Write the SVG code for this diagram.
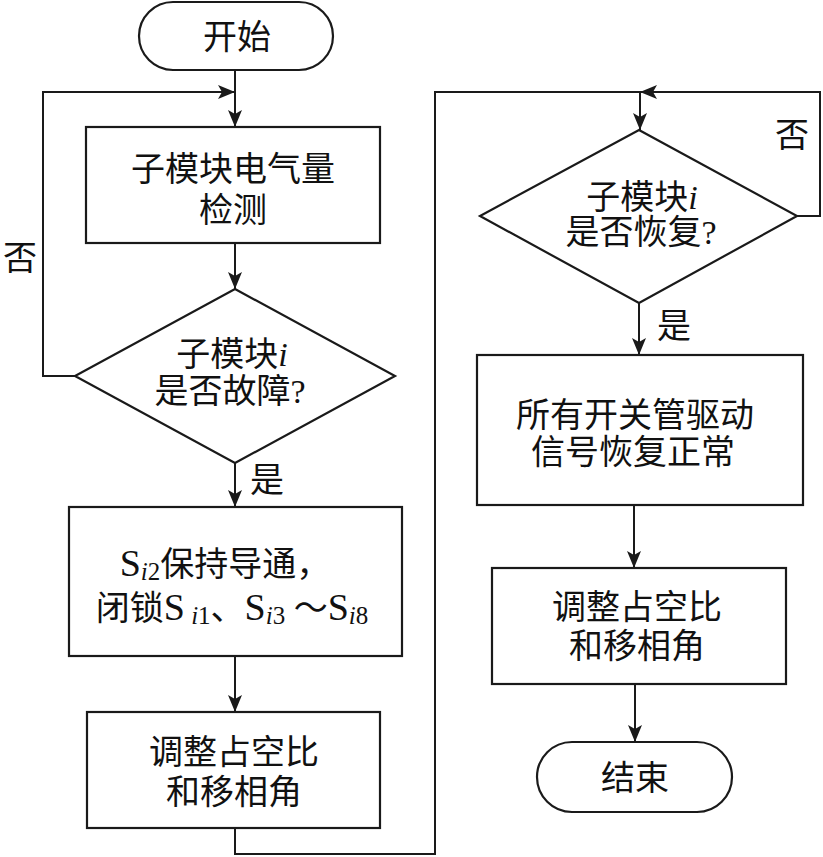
<svg xmlns="http://www.w3.org/2000/svg" width="823" height="857" viewBox="0 0 823 857">
<style>
.shape{fill:#fff;stroke:#1a1a1a;stroke-width:2.2}
.ln{fill:none;stroke:#1a1a1a;stroke-width:2}
text{font-family:"Liberation Serif","Noto Sans CJK SC",serif;font-size:34px;fill:#111;text-anchor:middle}
.sub{font-size:25px}
.it{font-style:italic}
.big{font-size:38px}
</style>
<defs>
<marker id="ah" markerUnits="userSpaceOnUse" markerWidth="18" markerHeight="14" refX="17" refY="7" orient="auto">
<path d="M0,0 L17,7 L0,14 L4,7 z" fill="#1a1a1a"/>
</marker>
</defs>
<g id="connectors">
<line class="ln" x1="235" y1="70" x2="235" y2="127" marker-end="url(#ah)"/>
<polyline class="ln" points="75,376 43,376 43,92 235,92" marker-end="url(#ah)"/>
<line class="ln" x1="235" y1="243" x2="235" y2="289" marker-end="url(#ah)"/>
<line class="ln" x1="235" y1="463" x2="235" y2="507" marker-end="url(#ah)"/>
<line class="ln" x1="235" y1="656" x2="235" y2="712" marker-end="url(#ah)"/>
<polyline class="ln" points="235,828 235,854 435,854 435,92 640,92"/>
<polyline class="ln" points="797,216 820,216 820,92 640,92" marker-end="url(#ah)"/>
<line class="ln" x1="640" y1="92" x2="640" y2="130" marker-end="url(#ah)"/>
<line class="ln" x1="639" y1="303" x2="639" y2="355" marker-end="url(#ah)"/>
<line class="ln" x1="634" y1="505" x2="634" y2="568" marker-end="url(#ah)"/>
<line class="ln" x1="635" y1="684" x2="635" y2="742" marker-end="url(#ah)"/>
<text x="20" y="270">否</text>
<text x="267" y="492">是</text>
<text x="792" y="147">否</text>
<text x="674" y="338">是</text>
</g>
<g id="start">
<rect class="shape" x="139" y="2" width="194" height="68" rx="34" ry="34"/>
<text x="237" y="49">开始</text>
</g>
<g id="detect">
<rect class="shape" x="86" y="127" width="294" height="116"/>
<text x="233" y="181">子模块电气量</text>
<text x="233" y="222">检测</text>
</g>
<g id="fault">
<polygon class="shape" points="235,289 395,376 235,463 75,376"/>
<text x="232" y="366">子模块<tspan class="it">i</tspan></text>
<text x="230" y="403">是否故障?</text>
</g>
<g id="block">
<rect class="shape" x="69" y="507" width="333" height="149"/>
<text x="225" y="576"><tspan class="big">S</tspan><tspan class="sub it" dy="4">i</tspan><tspan class="sub">2</tspan><tspan dy="-4">保持导通，</tspan></text>
<text x="232" y="620">闭锁<tspan class="big">S</tspan><tspan class="sub it" dy="4"> i</tspan><tspan class="sub">1</tspan><tspan dy="-4">、</tspan><tspan class="big">S</tspan><tspan class="sub it" dy="4">i</tspan><tspan class="sub">3</tspan><tspan dy="-4"> ～</tspan><tspan class="big">S</tspan><tspan class="sub it" dy="4">i</tspan><tspan class="sub">8</tspan></text>
</g>
<g id="adjust1">
<rect class="shape" x="87" y="712" width="293" height="116"/>
<text x="234" y="764">调整占空比</text>
<text x="234" y="804">和移相角</text>
</g>
<g id="recover">
<polygon class="shape" points="639,130 797,216 639,303 480,216"/>
<text x="642" y="209">子模块<tspan class="it">i</tspan></text>
<text x="641" y="244">是否恢复?</text>
</g>
<g id="restore">
<rect class="shape" x="477" y="355" width="326" height="150"/>
<text x="635" y="427">所有开关管驱动</text>
<text x="633" y="464">信号恢复正常</text>
</g>
<g id="adjust2">
<rect class="shape" x="492" y="568" width="294" height="116"/>
<text x="637" y="619">调整占空比</text>
<text x="637" y="658">和移相角</text>
</g>
<g id="end">
<rect class="shape" x="537" y="742" width="195" height="70" rx="35" ry="35"/>
<text x="635" y="790">结束</text>
</g>
</svg>
